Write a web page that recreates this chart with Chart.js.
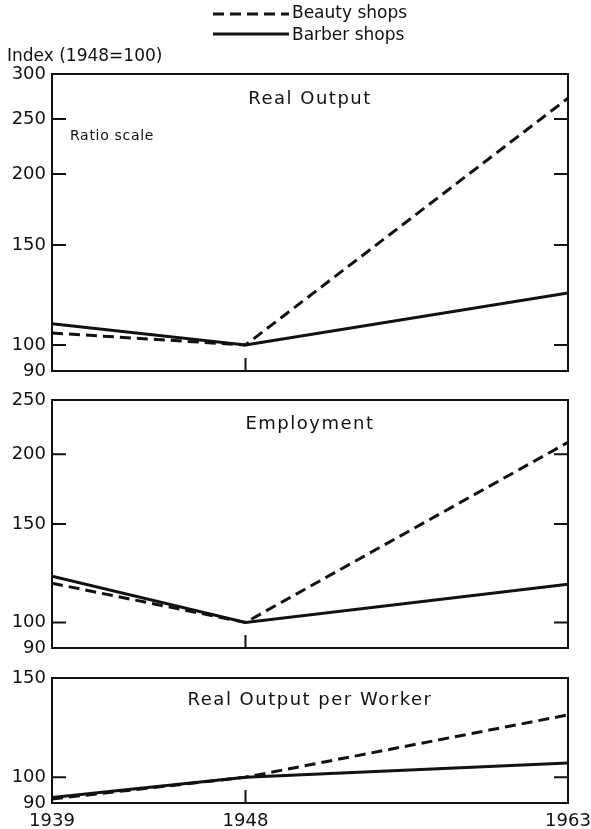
<!DOCTYPE html>
<html>
<head>
<meta charset="utf-8">
<script src="https://cdn.jsdelivr.net/npm/chart.js@4"></script>
<style>
    body { margin: 0; background: #fff; }
    #wrap { position: relative; width: 591px; height: 829px; }
    canvas { position: absolute; left: 0; }
</style>
</head>
<body>
<div id="wrap">
    <canvas id="outputChart" width="591" height="383" style="top:0"></canvas>
    <canvas id="employChart" width="591" height="272" style="top:388px"></canvas>
    <canvas id="workerChart" width="591" height="163" style="top:666px"></canvas>
</div>
<script>
// index values, 1948 = 100
const years = [1939, 1948, 1963];
const yearTicks = [1939, 1948, 1963];

const outputBeauty = [105, 100, 272];
const outputBarber = [109, 100, 123.5];
const outputTicks = [90, 100, 150, 200, 250, 300];

const employBeauty = [117.5, 100, 210];
const employBarber = [121, 100, 117];
const employTicks = [90, 100, 150, 200, 250];

const workerBeauty = [91.5, 100, 129];
const workerBarber = [92, 100, 106];
const workerTicks = [90, 100, 150];

Chart.defaults.font.family = "'DejaVu Sans', sans-serif";
Chart.defaults.color = '#111';

const toPoints = (vals) => vals.map((v, i) => ({ x: years[i], y: v }));

// frame, inward ticks, panel title and extra labels
const framePlugin = {
    id: 'frame',
    afterDraw(chart, args, opts) {
        const ctx = chart.ctx;
        const a = chart.chartArea;
        const ys = chart.scales.y;
        const xs = chart.scales.x;
        ctx.save();
        ctx.strokeStyle = '#111';
        ctx.lineWidth = 2;
        ctx.setLineDash([]);
        ctx.strokeRect(a.left, a.top, a.right - a.left, a.bottom - a.top);

        ctx.beginPath();
        opts.yTicks.slice(1, -1).forEach((v) => {
            const py = ys.getPixelForValue(v);
            ctx.moveTo(a.left, py);
            ctx.lineTo(a.left + 14, py);
            ctx.moveTo(a.right, py);
            ctx.lineTo(a.right - 14, py);
        });
        const px = xs.getPixelForValue(1948);
        ctx.moveTo(px, a.bottom);
        ctx.lineTo(px, a.bottom - 13);
        ctx.stroke();

        ctx.fillStyle = '#111';
        ctx.textAlign = 'center';
        ctx.textBaseline = 'middle';
        ctx.font = "18px 'DejaVu Sans'";
        ctx.letterSpacing = '1.5px';
        ctx.fillText(opts.title, (a.left + a.right) / 2, a.top + opts.titleY);

        if (opts.extras) {
            ctx.textAlign = 'left';
            ctx.font = "14px 'DejaVu Sans'";
            ctx.letterSpacing = '0.7px';
            ctx.fillText('Ratio scale', 70, 136);
            ctx.letterSpacing = '0px';

            ctx.font = "17px 'DejaVu Sans'";
            ctx.fillText('Index (1948=100)', 7, 57);

            ctx.fillText('Beauty shops', 292, 14);
            ctx.fillText('Barber shops', 292, 36);

            ctx.lineWidth = 3;
            ctx.setLineDash([11, 6]);
            ctx.beginPath();
            ctx.moveTo(213, 14);
            ctx.lineTo(289, 14);
            ctx.stroke();
            ctx.setLineDash([]);
            ctx.beginPath();
            ctx.moveTo(213, 34);
            ctx.lineTo(289, 34);
            ctx.stroke();
        }
        ctx.restore();
    }
};

const makePanel = (id, title, beauty, barber, yTicks, cfg) => {
    const ctx = document.getElementById(id).getContext('2d');
    return new Chart(ctx, {
        type: 'line',
        data: {
            datasets: [
                {
                    label: 'Beauty shops',
                    data: toPoints(beauty),
                    borderColor: '#111',
                    borderWidth: 3,
                    borderDash: [11, 6],
                    pointRadius: 0,
                    tension: 0,
                },
                {
                    label: 'Barber shops',
                    data: toPoints(barber),
                    borderColor: '#111',
                    borderWidth: 3,
                    pointRadius: 0,
                    tension: 0,
                },
            ],
        },
        options: {
            responsive: false,
            animation: false,
            layout: {
                padding: { top: cfg.padTop, bottom: cfg.padBottom, left: 0, right: 23 },
            },
            plugins: {
                legend: { display: false },
                tooltip: { enabled: false },
                frame: { title: title, titleY: cfg.titleY, yTicks: yTicks, extras: cfg.extras },
            },
            scales: {
                x: {
                    type: 'linear',
                    min: 1939,
                    max: 1963,
                    display: cfg.showYears,
                    grid: { display: false },
                    border: { display: false },
                    afterBuildTicks: (scale) => {
                        scale.ticks = yearTicks.map((v) => ({ value: v }));
                    },
                    afterFit: (scale) => {
                        if (cfg.showYears) {
                            scale.height = 26;
                        }
                        scale.paddingLeft = 0;
                        scale.paddingRight = 0;
                    },
                    ticks: {
                        font: { size: 18 },
                        padding: 0,
                        autoSkip: false,
                        maxRotation: 0,
                        callback: (v) => String(v),
                    },
                },
                y: {
                    type: 'logarithmic',
                    min: yTicks[0],
                    max: yTicks[yTicks.length - 1],
                    grid: { display: false, drawTicks: false },
                    border: { display: false },
                    afterBuildTicks: (scale) => {
                        scale.ticks = yTicks.map((v) => ({ value: v }));
                    },
                    afterFit: (scale) => {
                        scale.width = 52;
                        scale.paddingTop = 0;
                        scale.paddingBottom = 0;
                    },
                    ticks: {
                        font: { size: 18 },
                        padding: 6,
                        autoSkip: false,
                        callback: (v) => String(v),
                    },
                },
            },
        },
        plugins: [framePlugin],
    });
};

makePanel('outputChart', 'Real Output', outputBeauty, outputBarber, outputTicks,
    { padTop: 74, padBottom: 12, titleY: 25, showYears: false, extras: true });
makePanel('employChart', 'Employment', employBeauty, employBarber, employTicks,
    { padTop: 12, padBottom: 12, titleY: 24, showYears: false, extras: false });
makePanel('workerChart', 'Real Output per Worker', workerBeauty, workerBarber, workerTicks,
    { padTop: 12, padBottom: 0, titleY: 22, showYears: true, extras: false });
</script>
</body>
</html>
